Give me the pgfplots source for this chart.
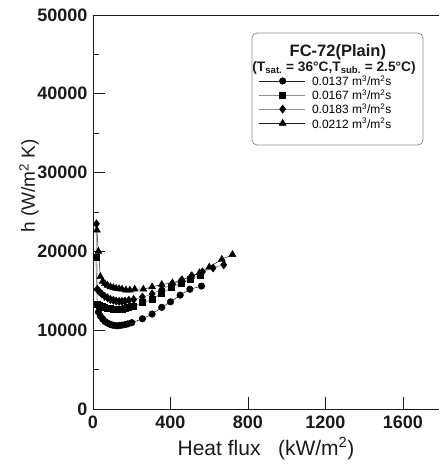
\documentclass[border=0pt]{standalone}
\usepackage{fontspec}
\setmainfont{Liberation Sans}
\usepackage{pgfplots}
\pgfplotsset{compat=1.18}
\definecolor{ink}{HTML}{1A1A1A}
\definecolor{lgry}{HTML}{8C8C8C}
\newcommand{\lent}[1]{\fontsize{12}{12}\selectfont\rule{0pt}{11pt}#1 m\textsuperscript{3}/m\textsuperscript{2}s}

\begin{document}
\begin{tikzpicture}
\useasboundingbox (-93pt,-56pt) rectangle (346pt,409pt);
\begin{axis}[
  at={(0pt,0pt)}, anchor=south west,
  scale only axis, width=346pt, height=394pt,
  xmin=0, xmax=1786, ymin=0, ymax=50000,
  axis x line=bottom, axis y line=left,
  axis line style={ink, line width=0.9pt, -},
  tick style={ink, line width=0.9pt},
  tick align=inside,
  major tick length=12pt, minor tick length=6pt,
  xtick={0,400,800,1200,1600},
  ytick={0,10000,20000,30000,40000,50000},
  minor ytick={5000,15000,25000,35000,45000},
  scaled y ticks=false, scaled x ticks=false,
  /pgf/number format/1000 sep={},
  /pgf/number format/assume math mode=true,
  tick label style={font=\bfseries\fontsize{18}{18}\selectfont, text=ink},
  xticklabel style={yshift=-3pt},
  yticklabel style={xshift=-2pt},
  xlabel={Heat flux\ \ \ (kW/m\textsuperscript{2})},
  ylabel={h (W/m\textsuperscript{2} K)},
  label style={font=\fontsize{19}{19}\selectfont, text=ink},
  xlabel style={font=\fontsize{21}{21}\selectfont, at={(axis description cs:0.5,-0.101)}, anchor=center},
  ylabel style={at={(axis description cs:-0.185,0.566)}, anchor=center},
  legend style={draw=none, fill=none, inner sep=0pt, at={(axis cs:852,42700)},
    anchor=north west, row sep=-2.4pt},
  legend cell align=left,
  legend image code/.code={\draw[mark repeat=2,mark phase=2,#1]
    plot coordinates {(0pt,0pt) (24pt,0pt) (46pt,0pt)}; \path (51pt,0pt);},
  clip=false,
]

\addplot[ink, line width=0.5pt, mark=*, mark size=3.3pt, mark options={fill=black, draw=black}]
  coordinates {(28,12300) (38,11800) (50,11400) (62,11100) (75,10900) (88,10750) (100,10650)
  (112,10600) (125,10550) (138,10600) (150,10650) (165,10700) (180,10800) (200,10950)
  (255,11450) (305,12050) (355,12900) (400,13600) (450,14450) (500,15200) (560,15600)};
\addlegendentry{\lent{0.0137}}

\addplot[lgry, line width=0.8pt, mark=square*, mark size=3pt, mark options={fill=black, draw=black}]
  coordinates {(15,19200) (22,13300) (35,13100) (48,13000) (60,12900) (75,12800) (90,12750)
  (105,12700) (120,12650) (135,12700) (150,12700) (165,12750) (185,12850) (210,13000)
  (255,13500) (305,13900) (355,14700) (405,15400) (455,16000) (505,16500) (555,17000)};
\addlegendentry{\lent{0.0167}}

\addplot[lgry, line width=0.6pt, mark=diamond*, mark size=4pt, mark options={fill=black, draw=black}]
  coordinates {(18,23500) (22,15200) (32,14900) (45,14600) (60,14300) (75,14100) (90,13900)
  (105,13800) (120,13700) (135,13650) (150,13650) (165,13700) (185,13800) (210,13900)
  (255,14200) (305,14600) (355,15200) (405,15800) (455,16300) (510,16900) (565,17400)
  (620,17900) (675,18300)};
\addlegendentry{\lent{0.0183}}

\addplot[ink, line width=0.5pt, mark=triangle*, mark size=4pt, mark options={fill=black, draw=black}]
  coordinates {(20,22700) (28,20000) (38,16800) (50,16200) (62,15900) (75,15700) (90,15500)
  (105,15400) (120,15300) (135,15250) (150,15200) (170,15100) (190,15100) (215,15200)
  (260,15200) (305,15500) (355,15800) (410,16000) (460,16400) (505,16800) (550,17300)
  (600,18000) (665,19000) (720,19600)};
\addlegendentry{\lent{0.0212}}

\draw[ink, line width=0.9pt] (rel axis cs:0,1) -- (rel axis cs:1,1);
\draw[lgry, line width=0.8pt, rounded corners=5pt] (axis cs:821,33500) rectangle (axis cs:1703,47714);
\node[font=\bfseries\fontsize{16.5}{17}\selectfont, text=ink] at (axis cs:1264,45250) {FC-72(Plain)};
\node[font=\bfseries\fontsize{13.7}{14}\selectfont, text=ink] at (axis cs:1244,43300)
  {(T\textsubscript{sat.} = 36°C,T\textsubscript{sub.} = 2.5°C)};
\end{axis}
\end{tikzpicture}
\end{document}
